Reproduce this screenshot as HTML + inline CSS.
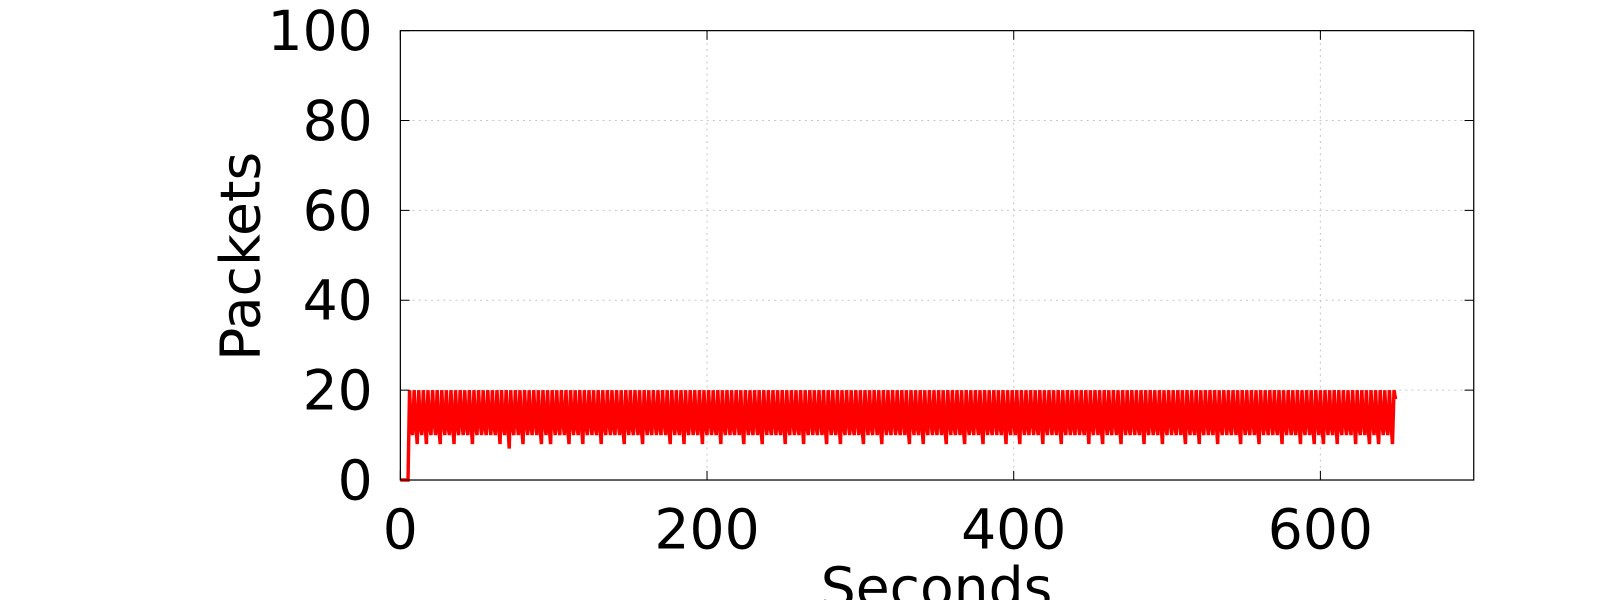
<!DOCTYPE html>
<html><head><meta charset="utf-8"><style>
html,body{margin:0;padding:0;background:#fff;width:1600px;height:600px;overflow:hidden}
svg{display:block;position:fixed;left:0;top:0;transform-origin:0 0;transform:scale(1.0213);font-family:"DejaVu Sans","Liberation Sans",sans-serif}
</style></head><body>
<svg id="chart" width="1600" height="600" viewBox="0 0 1600 600"></svg>
<script>
const xTicks = [0, 200, 400, 600];
const yTicks = [0, 20, 40, 60, 80, 100];
const startSecond = 6;
const peakValue = 20;
const shoulderValues = [12, 13];
const leadZeros = [0, 0, 0, 0, 0, 0];
const dips = [
10,8,10,8,10,10,8,10,10,8,
10,10,10,8,10,10,10,10,10,8,
10,7,10,10,8,10,10,10,8,10,
8,10,10,10,8,10,10,8,10,10,
10,8,10,10,10,10,8,10,10,10,
8,10,10,10,10,10,8,10,10,8,
10,10,10,8,10,10,10,8,10,10,
10,10,8,10,10,10,8,10,10,10,
10,8,10,10,10,8,10,10,10,10,
8,10,10,8,10,10,10,10,8,10,
10,10,8,10,10,10,10,10,8,10,
10,8,10,10,10,10,8,10,10,10,
8,10,10,10,8,10,10,10,10,8,
10,10,8,10,10,10,10,8,10,10,
10,8,10,10,10,10,10,8,10,10,
8,10,10,10,8,10,10,10,10,8,
10,10,10,8,10,10,10,10,8,10,
10,8,10,10,10,8,10,10,10,10,
8,10,10,10,8,10,10,10,10,8,
10,10,10,8,10,10,8,10,8,10,
10,8,10,10,10,8,10,10,8,10,
8,10,10,8];
const endValue = 18;

const NS = "http://www.w3.org/2000/svg";
const svg = document.getElementById("chart");
const L = 392, R = 1443, T = 30, B = 470;
const xMax = 700, yMax = 100;
const xs = v => L + (v / xMax) * (R - L);
const ys = v => B - (v / yMax) * (B - T);
function mk(tag, attrs, parent) {
  const e = document.createElementNS(NS, tag);
  for (const k in attrs) e.setAttribute(k, attrs[k]);
  (parent || svg).appendChild(e);
  return e;
}
xTicks.forEach(t => {
  if (t === 0) return;
  const g = mk("line", {x1: xs(t), x2: xs(t), y1: T, y2: B, stroke: "#c8c8c8", "stroke-width": 1, "stroke-dasharray": "2,4"});
  
  
});
yTicks.forEach(t => {
  if (t === 0 || t === yMax) return;
  const g = mk("line", {x1: L, x2: R, y1: ys(t), y2: ys(t), stroke: "#c8c8c8", "stroke-width": 1, "stroke-dasharray": "2,4"});
  
  
});
const pts = [];
leadZeros.forEach((v, i) => pts.push([i, v]));
let t = startSecond;
dips.forEach((d, i) => {
  pts.push([t, peakValue]); t++;
  pts.push([t, shoulderValues[i % 2]]); t++;
  pts.push([t, d]); t++;
});
pts.push([t, peakValue]); pts.push([t + 1, endValue]);
const line = mk("polyline", {points: pts.map(p => xs(p[0]).toFixed(2) + "," + ys(p[1]).toFixed(2)).join(" "), fill: "none", stroke: "#ff0000", "stroke-width": 3.4, "stroke-linejoin": "miter", "stroke-miterlimit": 2});


const fr = mk("rect", {x: L, y: T, width: R - L, height: B - T, fill: "none", stroke: "#000", "stroke-width": 1.2});


xTicks.forEach(v => {
  mk("line", {x1: xs(v), x2: xs(v), y1: B, y2: B - 9, stroke: "#000", "stroke-width": 1});
  mk("line", {x1: xs(v), x2: xs(v), y1: T, y2: T + 9, stroke: "#000", "stroke-width": 1});
  const tx = mk("text", {x: xs(v), y: 537, "text-anchor": "middle", "font-size": 54, fill: "#000"});
  tx.textContent = v;
  
  
});
yTicks.forEach(v => {
  mk("line", {x1: L, x2: L + 9, y1: ys(v), y2: ys(v), stroke: "#000", "stroke-width": 1});
  mk("line", {x1: R, x2: R - 9, y1: ys(v), y2: ys(v), stroke: "#000", "stroke-width": 1});
  const tx = mk("text", {x: 365, y: ys(v) + 19, "text-anchor": "end", "font-size": 54, fill: "#000"});
  tx.textContent = v;
  
  
});
const xt = mk("text", {x: 917, y: 594, "text-anchor": "middle", "font-size": 54, fill: "#000"});
xt.textContent = "Seconds";


const yt = mk("text", {x: 0, y: 0, "text-anchor": "middle", "font-size": 54, fill: "#000", transform: "translate(254,251) rotate(-90)"});
yt.textContent = "Packets";


</script>
</body></html>
